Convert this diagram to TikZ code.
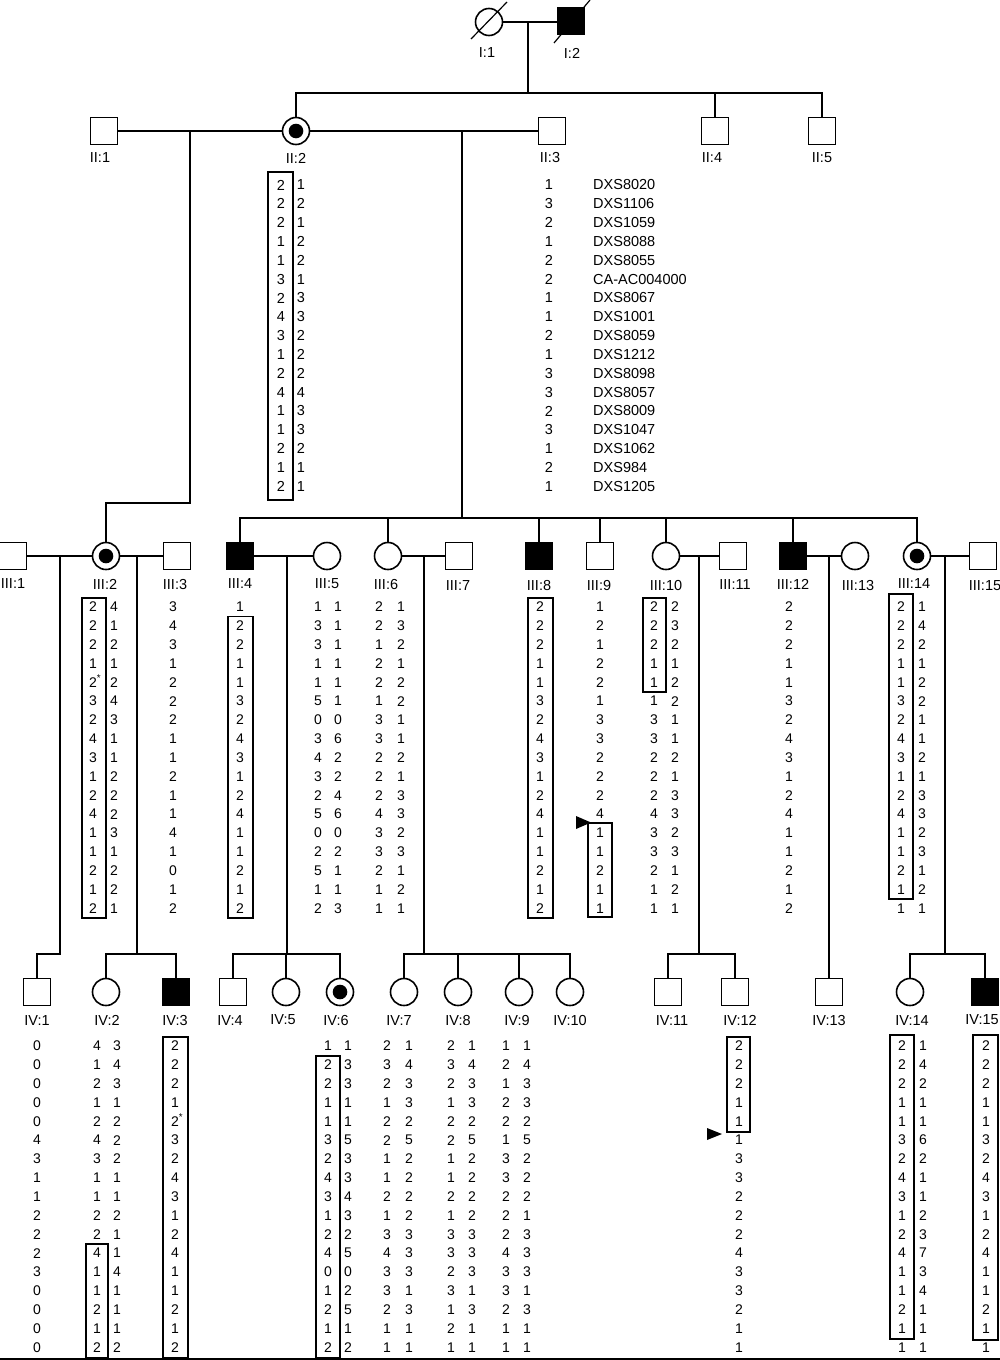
\documentclass[tikz,border=0pt]{standalone}
\usepackage{fontspec}
\setmainfont{Liberation Sans}
\newcommand\hapcol[5][num]{%
  \foreach \v [count=\i] in {#5} {\node[#1] (#2-\i) at (#3,{#4+(\i-1)*18.83}) {\v};}}
\newcommand\myast{\rlap{\smash{\textsuperscript{*}}}}
\begin{document}
\begin{tikzpicture}[x=1pt,y=-1pt,
  sym/.style={draw, line width=1.6pt, minimum size=27pt, inner sep=0pt},
  male/.style={sym, rectangle},
  female/.style={sym, circle},
  aff/.style={fill=black},
  carrier/.style={female, path picture={\fill (path picture bounding box.center) circle (7.3pt);}},
  lbl/.style={font=\fontsize{14.5}{14.5}\selectfont, inner sep=0pt},
  num/.style={font=\fontsize{14}{14}\selectfont, inner sep=0pt},
  numII/.style={font=\fontsize{14.5}{14.5}\selectfont, inner sep=0pt},
  mk/.style={numII, anchor=west},
  conn/.style={line width=1.2pt},
  hapbox/.style={line width=1.3pt}]
\useasboundingbox (0,0) rectangle (1000,1360);

% ---------- Generation I
\node[female] (I1) at (489,22) {};
\node[male,aff] (I2) at (571,21) {};
\draw[conn] (I1.center) ++(-18,17) -- ++(36,-37);
\draw[conn] (I2.center) ++(-17,22) -- ++(36,-43);
\node[lbl] (lI1) at (487,53) {I:1};
\node[lbl] (lI2) at (572,53) {I:2};

% ---------- Generation II
\node[male] (II1) at (104,131) {};
\node[carrier] (II2) at (296,131) {};
\node[male] (II3) at (552,131) {};
\node[male] (II4) at (715,131) {};
\node[male] (II5) at (822,131) {};
\node[lbl] (lII1) at (100,158) {II:1};
\node[lbl] (lII2) at (296,158) {II:2};
\node[lbl] (lII3) at (550,158) {II:3};
\node[lbl] (lII4) at (712,158) {II:4};
\node[lbl] (lII5) at (822,158) {II:5};

% ---------- Generation III
\node[male] (III1) at (13,556) {};
\node[carrier] (III2) at (106,556) {};
\node[male] (III3) at (177,556) {};
\node[male,aff] (III4) at (240,556) {};
\node[female] (III5) at (327,556) {};
\node[female] (III6) at (388,556) {};
\node[male] (III7) at (459,556) {};
\node[male,aff] (III8) at (539,556) {};
\node[male] (III9) at (600,556) {};
\node[female] (III10) at (666,556) {};
\node[male] (III11) at (733,556) {};
\node[male,aff] (III12) at (793,556) {};
\node[female] (III13) at (855,556) {};
\node[carrier] (III14) at (917,556) {};
\node[male] (III15) at (983,556) {};
\node[lbl] (lIII1) at (13,584) {III:1};
\node[lbl] (lIII2) at (105,584) {III:2};
\node[lbl] (lIII3) at (175,584) {III:3};
\node[lbl] (lIII4) at (240,584) {III:4};
\node[lbl] (lIII5) at (327,584) {III:5};
\node[lbl] (lIII6) at (386,584) {III:6};
\node[lbl] (lIII7) at (458,586) {III:7};
\node[lbl] (lIII8) at (539,586) {III:8};
\node[lbl] (lIII9) at (599,586) {III:9};
\node[lbl] (lIII10) at (666,586) {III:10};
\node[lbl] (lIII11) at (735,585) {III:11};
\node[lbl] (lIII12) at (793,584) {III:12};
\node[lbl] (lIII13) at (858,586) {III:13};
\node[lbl] (lIII14) at (914,584) {III:14};
\node[lbl] (lIII15) at (985,586) {III:15};

% ---------- Generation IV
\node[male] (IV1) at (37,992) {};
\node[female] (IV2) at (106,992) {};
\node[male,aff] (IV3) at (176,992) {};
\node[male] (IV4) at (233,992) {};
\node[female] (IV5) at (286,992) {};
\node[carrier] (IV6) at (340,992) {};
\node[female] (IV7) at (404,992) {};
\node[female] (IV8) at (458,992) {};
\node[female] (IV9) at (519,992) {};
\node[female] (IV10) at (570,992) {};
\node[male] (IV11) at (668,992) {};
\node[male] (IV12) at (735,992) {};
\node[male] (IV13) at (829,992) {};
\node[female] (IV14) at (910,992) {};
\node[male,aff] (IV15) at (985,992) {};
\node[lbl] (lIV1) at (37,1020) {IV:1};
\node[lbl] (lIV2) at (107,1020) {IV:2};
\node[lbl] (lIV3) at (175,1020) {IV:3};
\node[lbl] (lIV4) at (230,1020) {IV:4};
\node[lbl] (lIV5) at (283,1020) {IV:5};
\node[lbl] (lIV6) at (336,1020) {IV:6};
\node[lbl] (lIV7) at (399,1020) {IV:7};
\node[lbl] (lIV8) at (458,1020) {IV:8};
\node[lbl] (lIV9) at (517,1020) {IV:9};
\node[lbl] (lIV10) at (570,1020) {IV:10};
\node[lbl] (lIV11) at (672,1020) {IV:11};
\node[lbl] (lIV12) at (740,1020) {IV:12};
\node[lbl] (lIV13) at (829,1020) {IV:13};
\node[lbl] (lIV14) at (912,1020) {IV:14};
\node[lbl] (lIV15) at (982,1020) {IV:15};

% ---------- connectors
\coordinate (mI) at (528,22);  \coordinate (sI) at (528,93);
\coordinate (mA) at (190,131); \coordinate (sA) at (190,503);
\coordinate (mB) at (462,131); \coordinate (sB) at (462,518);
\coordinate (mC) at (60,556);  \coordinate (sC) at (60,954);
\coordinate (mD) at (137,556); \coordinate (sD) at (137,954);
\coordinate (mE) at (287,556); \coordinate (sE) at (287,954);
\coordinate (mF) at (424,556); \coordinate (sF) at (424,954);
\coordinate (mG) at (699,556); \coordinate (sG) at (699,954);
\coordinate (mH) at (829,556);
\coordinate (mJ) at (945,556); \coordinate (sJ) at (945,954);
\begin{scope}[conn]
\draw (I1) -- (I1 -| I2.west);
\draw (II1) -- (II2);
\draw (II2) -- (II3);
\draw (III1) -- (III2);
\draw (III2) -- (III3);
\draw (III4) -- (III5);
\draw (III6) -- (III7);
\draw (III10) -- (III11);
\draw (III12) -- (III13);
\draw (III14) -- (III15);
\draw (mI) -- (sI);
\foreach \c in {II2,II4,II5} \draw (\c.north) |- (sI);
\draw (mA) -- (sA) -| (III2.north);
\draw (mB) -- (sB);
\foreach \c in {III4,III6,III8,III9,III10,III12,III14} \draw (\c.north) |- (sB);
\draw (mC) -- (sC) -| (IV1.north);
\draw (mD) -- (sD);
\foreach \c in {IV2,IV3} \draw (\c.north) |- (sD);
\draw (mE) -- (sE);
\foreach \c in {IV4,IV5,IV6} \draw (\c.north) |- (sE);
\draw (mF) -- (sF);
\foreach \c in {IV7,IV8,IV9,IV10} \draw (\c.north) |- (sF);
\draw (mG) -- (sG);
\foreach \c in {IV11,IV12} \draw (\c.north) |- (sG);
\draw (mH) -- (IV13.north);
\draw (mJ) -- (sJ);
\foreach \c in {IV14,IV15} \draw (\c.north) |- (sJ);
\end{scope}

% ---------- Generation II haplotypes and markers
\hapcol[numII]{hII2L}{281}{185}{2,2,2,1,1,3,2,4,3,1,2,4,1,1,2,1,2}
\hapcol[numII]{hII2R}{301}{185}{1,2,1,2,2,1,3,3,2,2,2,4,3,3,2,1,1}
\hapcol[numII]{hII3}{549}{185}{1,3,2,1,2,2,1,1,2,1,3,3,2,3,1,2,1}
\hapcol[mk]{mk}{593}{185}{DXS8020,DXS1106,DXS1059,DXS8088,DXS8055,CA-AC004000,DXS8067,DXS1001,DXS8059,DXS1212,DXS8098,DXS8057,DXS8009,DXS1047,DXS1062,DXS984,DXS1205}
\draw[hapbox] (268,172) rectangle (293,500);

% ---------- Generation III haplotypes
\hapcol{hIII2L}{93}{607}{2,2,2,1,{2\myast},3,2,4,3,1,2,4,1,1,2,1,2}
\hapcol{hIII2R}{114}{607}{4,1,2,1,2,4,3,1,1,2,2,2,3,1,2,2,1}
\hapcol{hIII3}{173}{607}{3,4,3,1,2,2,2,1,1,2,1,1,4,1,0,1,2}
\hapcol{hIII4}{240}{607}{1,2,2,1,1,3,2,4,3,1,2,4,1,1,2,1,2}
\hapcol{hIII5L}{318}{607}{1,3,3,1,1,5,0,3,4,3,2,5,0,2,5,1,2}
\hapcol{hIII5R}{338}{607}{1,1,1,1,1,1,0,6,2,2,4,6,0,2,1,1,3}
\hapcol{hIII6L}{379}{607}{2,2,1,2,2,1,3,3,2,2,2,4,3,3,2,1,1}
\hapcol{hIII6R}{401}{607}{1,3,2,1,2,2,1,1,2,1,3,3,2,3,1,2,1}
\hapcol{hIII8}{540}{607}{2,2,2,1,1,3,2,4,3,1,2,4,1,1,2,1,2}
\hapcol{hIII9}{600}{607}{1,2,1,2,2,1,3,3,2,2,2,4,1,1,2,1,1}
\hapcol{hIII10L}{654}{607}{2,2,2,1,1,1,3,3,2,2,2,4,3,3,2,1,1}
\hapcol{hIII10R}{675}{607}{2,3,2,1,2,2,1,1,2,1,3,3,2,3,1,2,1}
\hapcol{hIII12}{789}{607}{2,2,2,1,1,3,2,4,3,1,2,4,1,1,2,1,2}
\hapcol{hIII14L}{901}{607}{2,2,2,1,1,3,2,4,3,1,2,4,1,1,2,1,1}
\hapcol{hIII14R}{922}{607}{1,4,2,1,2,2,1,1,2,1,3,3,2,3,1,2,1}
\begin{scope}[hapbox]
\draw (82,598) rectangle (106,918);
\draw (228,616.5) rectangle (253,918);
\draw (528,598) rectangle (553,918);
\draw (588,823) rectangle (612,917);
\draw (643,598) rectangle (666,692);
\draw (889,594) rectangle (913,899);
\end{scope}
\fill (576,816) -- (576,829) -- (591,822.5) -- cycle;

% ---------- Generation IV haplotypes
\hapcol{hIV1}{37}{1046}{0,0,0,0,0,4,3,1,1,2,2,2,3,0,0,0,0}
\hapcol{hIV2L}{97}{1046}{4,1,2,1,2,4,3,1,1,2,2,4,1,1,2,1,2}
\hapcol{hIV2R}{117}{1046}{3,4,3,1,2,2,2,1,1,2,1,1,4,1,1,1,2}
\hapcol{hIV3}{175}{1046}{2,2,2,1,{2\myast},3,2,4,3,1,2,4,1,1,2,1,2}
\hapcol{hIV6L}{328}{1046}{1,2,2,1,1,3,2,4,3,1,2,4,0,1,2,1,2}
\hapcol{hIV6R}{348}{1046}{1,3,3,1,1,5,3,3,4,3,2,5,0,2,5,1,2}
\hapcol{hIV7L}{387}{1046}{2,3,2,1,2,2,1,1,2,1,3,4,3,3,2,1,1}
\hapcol{hIV7R}{409}{1046}{1,4,3,3,2,5,2,2,2,2,3,3,3,1,3,1,1}
\hapcol{hIV8L}{451}{1046}{2,3,2,1,2,2,1,1,2,1,3,3,2,3,1,2,1}
\hapcol{hIV8R}{472}{1046}{1,4,3,3,2,5,2,2,2,2,3,3,3,1,3,1,1}
\hapcol{hIV9L}{506}{1046}{1,2,1,2,2,1,3,3,2,2,2,4,3,3,2,1,1}
\hapcol{hIV9R}{527}{1046}{1,4,3,3,2,5,2,2,2,1,3,3,3,1,3,1,1}
\hapcol{hIV12}{739}{1046}{2,2,2,1,1,1,3,3,2,2,2,4,3,3,2,1,1}
\hapcol{hIV14L}{902}{1046}{2,2,2,1,1,3,2,4,3,1,2,4,1,1,2,1,1}
\hapcol{hIV14R}{923}{1046}{1,4,2,1,1,6,2,1,1,2,3,7,3,4,1,1,1}
\hapcol{hIV15}{986}{1046}{2,2,2,1,1,3,2,4,3,1,2,4,1,1,2,1,1}
\begin{scope}[hapbox]
\draw (86,1244) rectangle (108,1358);
\draw (163,1037) rectangle (188,1358);
\draw (316,1056) rectangle (340,1358);
\draw (727,1037) rectangle (750,1132);
\draw (890,1035) rectangle (914,1339);
\draw (973,1035) rectangle (998,1340);
\end{scope}
\fill (707,1128) -- (707,1140) -- (722,1134) -- cycle;
\draw[conn] (0,1359) -- (1000,1359);
\end{tikzpicture}
\end{document}
